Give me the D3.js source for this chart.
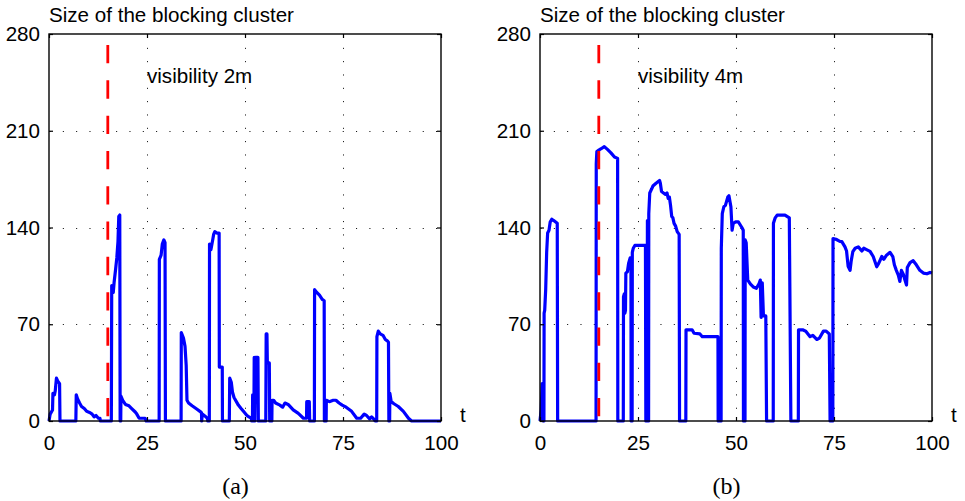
<!DOCTYPE html>
<html>
<head>
<meta charset="utf-8">
<script src="https://cdn.jsdelivr.net/npm/d3@7"></script>
<style>
  html, body { margin: 0; padding: 0; background: #fff; }
  svg { display: block; }
  text { font-family: "Liberation Sans", Arial, Helvetica, sans-serif; fill: #000; }
</style>
</head>
<body>
<svg id="fig" width="965" height="501"></svg>
<script>
// Axis ticks and labels
const xTicks = [0, 25, 50, 75, 100];
const yTicks = [0, 70, 140, 210, 280];
const titleText = "Size of the blocking cluster";
const xLabelText = "t";
const panelNames = ["(a)", "(b)"];
const visibilityLabels = ["visibility 2m", "visibility 4m"];
const markerTime = 15;      // time of the red dashed marker
const markerTop = 272;      // upper end of the marker

// Panel (a): visibility 2m
const timeA = [0, 0.3, 0.9, 1.0, 1.4, 1.6, 1.9, 2.2, 2.7, 2.8,
  6.85, 6.95, 7.3, 7.8, 8.3, 9.0, 9.6, 10.5, 11.0, 11.5, 12.0, 12.6, 13.0, 13.1,
  15.9, 16.0, 16.2, 16.4, 16.6, 17.0, 17.3, 17.6, 17.8, 18.05, 18.15,
  18.3, 18.35, 18.8, 19.5, 20.4, 21.1, 22.0, 22.4, 23.0, 24.5, 24.8,
  28.1, 28.15, 28.6, 28.9, 29.3, 29.6, 29.7,
  33.7, 33.75, 34.3, 34.7, 35.0, 35.2, 35.6, 36.5, 37.5, 38.5, 38.9, 38.95, 39.1, 40.0, 40.4, 40.5,
  40.9, 40.95, 41.3, 41.7, 42.0, 42.3, 42.8, 43.4, 43.45, 44.2, 44.25,
  46.0, 46.1, 46.5, 46.8, 47.2, 48.3, 49.0, 49.6, 50.5, 51.0, 51.6, 51.7,
  51.9, 51.95, 52.3, 52.35, 52.5, 52.7, 53.3, 53.4,
  55.3, 55.4, 55.6, 55.7, 56.2, 56.3,
  56.85, 56.9, 57.3, 57.8, 58.9, 59.6, 60.2, 61.0, 62.3, 63.6, 64.9, 65.7, 65.75, 66.4, 66.5,
  67.7, 67.75, 68.3, 69.0, 69.7, 70.2, 70.25,
  70.7, 70.75, 71.5, 72.5, 73.2, 74.0, 74.8, 75.8, 77.2, 78.5, 79.5, 80.4, 81.0, 81.8, 82.3, 83.0, 83.2,
  83.6, 83.65, 84.0, 84.5, 85.2, 85.8, 86.3, 86.6, 86.7,
  86.9, 86.95, 87.3, 88.0, 89.1, 90.4, 91.7, 92.5, 100];
const sizeA = [0, 5, 8, 20, 19, 22, 31, 29, 27, 0,
  0, 19, 16, 13, 10.5, 9, 7, 6, 5, 3, 4, 2, 2, 0,
  0, 98, 95, 93, 100, 110, 118, 130, 148, 149, 0,
  0, 18, 15, 12, 11, 9, 6.5, 5, 2, 2, 0,
  0, 117, 120, 128, 131, 129, 0,
  0, 64, 60, 54, 40, 15, 13, 11, 9, 7, 6, 0, 5, 3, 2, 0,
  0, 128, 124, 130, 135, 137, 136, 136, 39, 39, 0,
  0, 31, 28, 21, 17, 11.5, 9, 7, 4, 3, 2, 0,
  0, 19, 19, 46, 0, 46, 46, 0,
  0, 63, 63, 42, 42, 0,
  0, 15, 15, 13, 11.5, 10, 13, 12, 8, 5.5, 2, 2, 14, 14, 0,
  0, 95, 93, 91, 88, 87, 0,
  0, 15, 14, 15, 15, 13, 11.5, 10, 7, 2, 2, 5, 4, 1.5, 3, 1, 0,
  0, 61, 65, 63, 62, 59, 58, 57, 0,
  0, 20, 14, 12.5, 10.5, 7, 2, 0, 0];

// Panel (b): visibility 4m
const timeB = [0, 0.3, 0.55, 0.8, 0.85, 1.0, 1.05, 1.2, 1.45, 1.7, 1.95, 2.3, 2.6, 3.0, 3.5, 4.4, 4.5,
  14.3, 14.35, 14.5, 15.0, 15.6, 16.4, 17.2, 18.1, 19.0, 19.8, 19.85,
  21.25, 21.3, 21.5, 21.65, 21.8, 21.9, 22.3, 22.6, 23.0, 23.2, 23.25,
  23.5, 23.55, 23.8, 24.2, 26.9, 27.0, 27.35, 27.4, 27.5,
  27.7, 27.75, 28.0, 28.5, 28.8, 29.6, 30.5, 30.7, 31.0, 31.5, 32.0, 32.4, 32.7, 33.0, 33.3, 33.6, 33.9,
  34.2, 34.6, 35.0, 35.5, 35.6,
  37.2, 37.25, 38.8, 39.3, 40.8, 41.4, 45.4, 45.45,
  46.2, 46.25, 46.5, 46.9, 47.3, 47.9, 48.2, 48.7, 49.0, 49.3, 49.9, 50.6, 51.5, 51.85, 51.9,
  52.3, 52.35, 52.6, 53.0, 53.7, 54.4, 55.2, 55.9, 56.2, 56.4, 56.7, 57.0, 57.6, 57.8,
  59.5, 59.55, 60.0, 60.5, 62.5, 63.6, 64.0,
  65.9, 65.95, 67.0, 67.8, 68.9, 69.6, 70.6, 71.3, 72.3, 73.0, 73.8, 74.0,
  74.7, 74.75, 75.5, 76.5, 77.0, 77.8, 78.2, 78.6, 79.1, 79.4, 79.8, 80.4, 81.2, 82.1, 82.6, 83.3,
  84.2, 85.0, 85.9, 86.4, 87.2, 87.7, 88.4, 89.3, 90.0, 90.4, 90.9, 91.4, 91.8, 92.2, 92.7, 93.1,
  93.5, 93.7, 94.4, 95.2, 96.0, 96.9, 97.8, 98.7, 99.5, 100];
const sizeB = [0, 8, 27, 27, 0, 0, 78, 80, 95, 122, 136, 138, 144, 146, 145, 143, 0,
  0, 186, 195, 196, 197, 198.5, 196.5, 194, 191, 190, 0,
  0, 90, 92, 78, 80, 107, 108, 114, 118, 118, 0,
  0, 122, 125, 127, 127, 0, 0, 145, 0,
  0, 150, 165, 168, 170, 172, 174, 172, 166, 165, 164, 165, 161, 162, 156, 148, 147,
  143, 141, 137, 135, 0,
  0, 66, 66, 63.5, 63, 61, 61, 0,
  0, 125, 150, 155, 156, 162, 163, 155, 138, 143, 144, 144, 140, 138, 0,
  0, 131, 129, 102, 99, 97, 96, 99.5, 102, 75, 100, 76, 76, 0,
  0, 143, 147, 149, 149, 147, 0,
  0, 66, 66, 65, 61, 62, 59, 60, 65, 65, 63, 0,
  0, 132, 131.5, 130, 129.8, 126, 123, 112, 109, 116, 122.5, 125, 126, 123, 125, 124,
  122.7, 119, 111.6, 114, 119, 117, 120, 122, 119, 113, 109, 105.6, 101, 109, 106, 102,
  98.4, 111, 114.6, 116, 113, 109, 107, 106.5, 107.5, 107];

const series = [
  { times: timeA, sizes: sizeA, left: 49 },
  { times: timeB, sizes: sizeB, left: 540 }
];

const svg = d3.select("#fig");
const plotW = 392, plotTop = 34, plotBottom = 421;
const fontSize = 20.6;

series.forEach((s, i) => {
  const x = d3.scaleLinear().domain([0, 100]).range([s.left, s.left + plotW]);
  const y = d3.scaleLinear().domain([0, 280]).range([plotBottom, plotTop]);
  const g = svg.append("g");

  // dotted grid
  const grid = g.append("g").attr("stroke", "#000").attr("stroke-width", 1)
    .attr("stroke-dasharray", "1,12.33").attr("fill", "none");
  yTicks.slice(1, -1).forEach(v => {
    grid.append("line").attr("x1", x(0) + 0.5).attr("x2", x(100))
      .attr("y1", Math.round(y(v)) + 0.5).attr("y2", Math.round(y(v)) + 0.5);
  });
  xTicks.slice(1, -1).forEach(t => {
    grid.append("line").attr("x1", Math.round(x(t)) + 0.5).attr("x2", Math.round(x(t)) + 0.5)
      .attr("y1", y(280) + 0.5).attr("y2", y(0));
  });

  // the data trace
  const line = d3.line().x((d, k) => x(s.times[k])).y(d => y(d));
  g.append("path").datum(s.sizes)
    .attr("d", line)
    .attr("fill", "none").attr("stroke", "#0000ff")
    .attr("stroke-width", 3.2).attr("stroke-linejoin", "round");

  // red dashed marker
  g.append("line")
    .attr("x1", x(markerTime)).attr("x2", x(markerTime))
    .attr("y1", y(markerTop)).attr("y2", y(0))
    .attr("stroke", "#ff0000").attr("stroke-width", 2.8)
    .attr("stroke-dasharray", "18.3,17");

  // axes with inward ticks
  const ax = (gen, tr) => g.append("g").attr("transform", tr).call(gen)
    .call(a => a.select(".domain").remove())
    .call(a => a.selectAll("line").attr("stroke", "#000").attr("stroke-width", 1.2))
    .call(a => a.selectAll("text").style("font-size", fontSize + "px")
      .style("font-family", '"Liberation Sans", Arial, sans-serif'));

  ax(d3.axisLeft(y).tickValues(yTicks).tickSizeInner(-4).tickSizeOuter(0).tickPadding(9), `translate(${x(0)},0)`);
  ax(d3.axisRight(y).tickValues(yTicks).tickSizeInner(-4).tickSizeOuter(0).tickFormat(""), `translate(${x(100)},0)`);
  ax(d3.axisBottom(x).tickValues(xTicks).tickSizeInner(-4).tickSizeOuter(0).tickPadding(14), `translate(0,${y(0)})`);
  ax(d3.axisTop(x).tickValues(xTicks).tickSizeInner(-4).tickSizeOuter(0).tickFormat(""), `translate(0,${y(280)})`);

  // axes box
  g.append("rect").attr("x", x(0)).attr("y", y(280))
    .attr("width", x(100) - x(0)).attr("height", y(0) - y(280))
    .attr("fill", "none").attr("stroke", "#000").attr("stroke-width", 1.4);

  // texts
  g.append("text").attr("x", x(0)).attr("y", 22)
    .style("font-size", fontSize + "px").text(titleText);
  g.append("text").attr("x", x(100) + 19).attr("y", 421.5)
    .style("font-size", fontSize + "px").text(xLabelText);
  g.append("text").attr("x", x(25)).attr("y", 83)
    .style("font-size", fontSize + "px").text(visibilityLabels[i]);
  g.append("text").attr("x", (x(0) + x(100)) / 2 - 9.5).attr("y", 494)
    .attr("text-anchor", "middle")
    .style("font-family", '"Liberation Serif", "DejaVu Serif", serif')
    .style("font-size", "24px").text(panelNames[i]);
});
</script>
</body>
</html>
